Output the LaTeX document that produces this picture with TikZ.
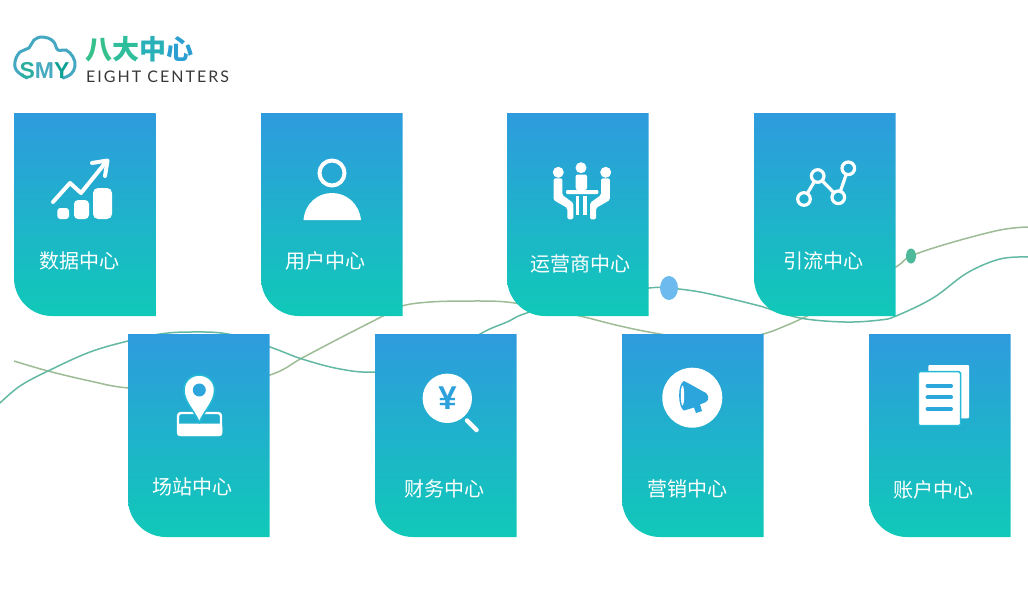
\documentclass[tikz,border=0pt]{standalone}
\usepackage{fontspec}
\newfontfamily\cjkfont{Noto Sans CJK SC}
\newfontfamily\wordfont[LetterSpace=12.5]{Lato}
\newfontfamily\logofont{Liberation Sans}
\usetikzlibrary{calc}
\definecolor{cardtop}{HTML}{2E9BDE}
\definecolor{cardmid}{HTML}{26B9D6}
\definecolor{cardlow}{HTML}{10C9B8}
\definecolor{waveone}{HTML}{9DBC96}
\definecolor{wavetwo}{HTML}{62B8A2}
\tikzset{
  cardfill/.style={top color=cardtop,middle color=cardmid,bottom color=cardlow},
  cardtext/.style={text=white,font=\cjkfont\fontsize{20}{20}\selectfont,inner sep=0pt},
  icon/.style={fill=white,draw=none},
  iconline/.style={draw=white,line width=#1,line cap=round,line join=round}
}
\begin{document}
\begin{tikzpicture}[x=1pt,y=-1pt]
        \useasboundingbox (0,0) rectangle (1028,608);

        % Лінії на фоні
        \draw[waveone,line width=1.5pt] plot[smooth,tension=0.6] coordinates {(14,361) (48,371) (90,381) (128,388) (200,392) (270,375) (302,358) (340,338) (383,316) (402,306) (430,302) (470,301) (507,302) (540,308) (580,316) (620,326) (660,334) (720,343) (763,334) (785,326) (805,317) (850,295) (896,267) (911,256) (950,243) (1000,230) (1028,227)};
        \draw[wavetwo,line width=1.5pt] plot[smooth,tension=0.6] coordinates {(0,403) (20,386) (48,371) (90,352) (128,341) (160,334) (190,332) (228,334) (270,347) (302,359) (340,369) (375,372) (430,365) (480,334) (507,322) (530,312) (600,295) (649,288) (668,288) (700,292) (740,301) (760,306) (800,318) (845,322) (880,320) (896,316) (933,298) (967,273) (1000,259) (1028,257)};
        \fill[color={rgb,255:red,108;green,186;blue,238}] (669,288) ellipse (9 and 12);
        \fill[color={rgb,255:red,78;green,184;blue,154}] (911,256) ellipse (5 and 7.5);

        % Картки
        \foreach \name/\x/\y/\lx/\ly/\txt in {
            data/14/113/79/261/数据中心,
            user/261/113/325/261/用户中心,
            carrier/507/113/580.5/264/运营商中心,
            traffic/754/113/823.5/261/引流中心,
            site/128/334/192.5/487/场站中心,
            finance/375/334/444/489/财务中心,
            market/622/334/687.5/489/营销中心,
            account/869/334/933.5/490/账户中心}{
            \shade[cardfill] (\x,\y) -- ++(141.5,0) -- ++(0,203) -- ++(-103.5,0) arc[start angle=90,end angle=180,radius=38] -- cycle;
            \node[cardtext] (\name) at (\lx,\ly) {\txt};
        }

        % Заголовок
        \draw[color=wavetwo!45!cardtop,line width=3pt,line cap=round] plot[smooth,tension=0.7] coordinates {(27,78) (17,71) (15,62) (20,52) (29,48) (34,40) (43,37) (53,41) (58,50) (66,50) (73,57) (75,66) (71,74) (63,78)};
        \node[inner sep=0pt,font=\logofont\bfseries\fontsize{23}{23}\selectfont] (logotext) at (44.5,70.5) {\textcolor{wavetwo!40!cardlow!90!black}{S}\textcolor{cardtop!50!wavetwo}{M}\textcolor{cardlow!80!black}{Y}};
        \node[inner sep=0pt,font=\cjkfont\bfseries\fontsize{27}{27}\selectfont] (title) at (139,49) {\textcolor[HTML]{36C08C}{八}\textcolor[HTML]{2FBE9C}{大}\textcolor[HTML]{2AB0B8}{中}\textcolor[HTML]{2C9FD2}{心}};
        \node[inner sep=0pt,anchor=west,text=black!78,font=\wordfont\fontsize{16}{16}\selectfont] (subtitle) at (86,77) {EIGHT CENTERS};

        % Дані
        \fill[icon,rounded corners=3pt] (57.3,208) rectangle (69,219);
        \fill[icon,rounded corners=4pt] (74,200) rectangle (89,219);
        \fill[icon,rounded corners=5pt] (93,188) rectangle (112,219);
        \draw[iconline=4pt] (53,202) -- (70,183) -- (81,193) -- (106,162);
        \draw[iconline=4pt] (92,163) -- (107.5,160.5) -- (105,176);

        % Користувач
        \draw[white,line width=4pt] (332,173) circle (12.5);
        \fill[icon] (303.5,220) .. controls (305,203) and (318,193) .. (332,193) .. controls (346,193) and (359,203) .. (361,220) -- cycle;

        % Нарада
        \fill[icon] (558.3,172.3) circle (5.5);
        \fill[icon] (581,167.7) circle (5.5);
        \fill[icon] (605.7,172.3) circle (5.5);
        \fill[icon,rounded corners=2pt] (575.7,174.5) -- (587,174.5) -- (587,190) -- (575.7,190) -- cycle;
        \fill[icon,rounded corners=1pt] (566,190) rectangle (598.3,194);
        \fill[icon] (575.7,196) rectangle (579.3,215);
        \fill[icon] (583.3,196) rectangle (586.9,215);
        \fill[icon,rounded corners=1.5pt] (553.5,178.3) -- (562.3,178.3) -- (562.3,195) -- (573.3,203) -- (573.3,219.3) -- (567.3,219.3) -- (567.3,208) -- (553.5,200) -- cycle;
        \fill[icon,rounded corners=1.5pt] (609.9,178.3) -- (601,178.3) -- (601,195) -- (590,203) -- (590,219.3) -- (596,219.3) -- (596,208) -- (609.9,200) -- cycle;

        % Графік
        \coordinate (G1) at (804,199);
        \coordinate (G2) at (817.7,176);
        \coordinate (G3) at (838.3,197.3);
        \coordinate (G4) at (848.3,168.3);
        \foreach \g in {G1,G2,G3,G4}{
            \draw[white,line width=3.2pt] (\g) circle (6.3);
        }
        \draw[white,line width=3.2pt,shorten >=6pt,shorten <=6pt] (G1) -- (G2);
        \draw[white,line width=3.2pt,shorten >=6pt,shorten <=6pt] (G2) -- (G3);
        \draw[white,line width=3.2pt,shorten >=6pt,shorten <=6pt] (G3) -- (G4);

        % Мітка
        \draw[white,line width=2.4pt,rounded corners=3pt] (178,413) rectangle (221,435);
        \fill[icon,rounded corners=3pt] (177,423.5) rectangle (222.3,436.2);
        \filldraw[fill=white,draw=cardmid,line width=1.6pt] (199.3,422.5) .. controls (194,410) and (184,402) .. (184,390) .. controls (184,381) and (191,375) .. (199.3,375) .. controls (207.6,375) and (214.6,381) .. (214.6,390) .. controls (214.6,402) and (204.6,410) .. (199.3,422.5) -- cycle;
        \fill[color=cardtop!70!cardmid] (199.3,390) circle (6.5);

        % Гроші
        \fill[icon] (447.3,398.3) circle (24.7);
        \draw[iconline=4.5pt] (467,420.5) -- (476.5,430);
        \node[inner sep=0pt,text=cardtop!80!cardmid,font=\logofont\bfseries\fontsize{33}{33}\selectfont] (yen) at (447.5,398.5) {¥};

        % Рупор
        \fill[icon] (692.3,397.7) circle (30);
        \fill[color=cardtop!70!cardmid] (684,381) .. controls (692,385) and (700,390) .. (706,393) .. controls (709,396) and (709,400) .. (706,402) -- (700,404.5) -- (702,411) -- (696,413) -- (694,407.5) -- (684,410.5) .. controls (678,408) and (677,384) .. (684,381) -- cycle;
        \fill[icon] (682.5,395.5) ellipse (1.7 and 10);

        % Документи
        \fill[icon,rounded corners=1pt] (928.3,365) rectangle (969,418.3);
        \filldraw[fill=white,draw=cardmid,line width=1.5pt,rounded corners=1.5pt] (918.3,371.7) rectangle (960.5,425.7);
        \foreach \ly in {385.7,397.3,409}{
            \draw[cardtop!60!cardmid,line width=4pt,line cap=round] (927.5,\ly) -- (951,\ly);
        }
    \end{tikzpicture}
\end{document}
